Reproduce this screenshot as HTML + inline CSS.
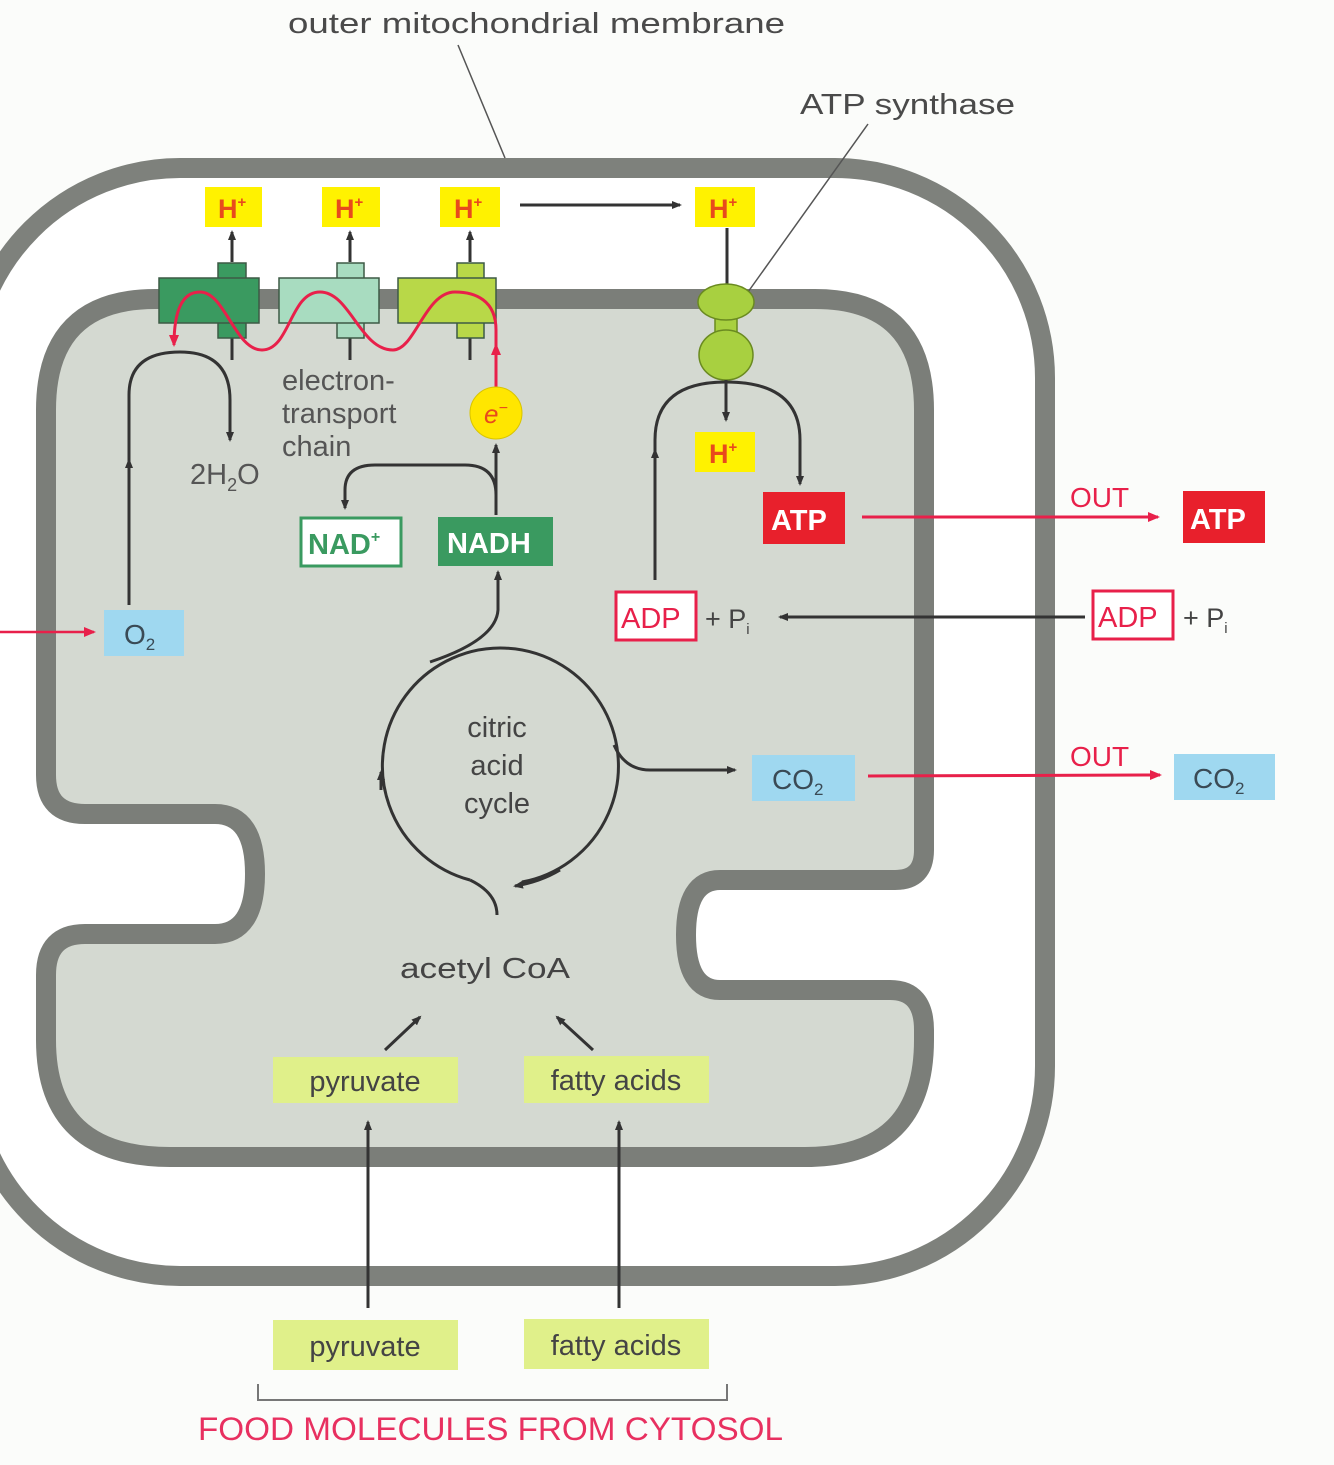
<!DOCTYPE html>
<html><head><meta charset="utf-8"><style>
html,body{margin:0;padding:0;background:#fbfcfa;}
svg{display:block;}
text{font-family:"Liberation Sans",sans-serif;}
</style></head><body>
<svg width="1334" height="1465" viewBox="0 0 1334 1465" xmlns="http://www.w3.org/2000/svg">
<defs>
<marker id="ak" markerWidth="10" markerHeight="10" refX="8" refY="5" orient="auto" markerUnits="userSpaceOnUse"><path d="M0,1 L10,5 L0,9 Z" fill="#333"/></marker>
<marker id="ar" markerWidth="12" markerHeight="12" refX="10" refY="6" orient="auto" markerUnits="userSpaceOnUse"><path d="M0,1 L12,6 L0,11 Z" fill="#e8204a"/></marker>
</defs>
<rect width="1334" height="1465" fill="#fbfcfa"/>
<!-- outer membrane -->
<rect x="-30" y="168" width="1075" height="1108" rx="210" ry="210" fill="#ffffff" stroke="#7e817c" stroke-width="20"/>
<!-- inner membrane/matrix -->
<path d="M155,299 L815,299 Q924,299 924,410 L924,850 Q924,880 895,880 L720,880 Q686,880 686,935 Q686,990 720,990 L890,990 Q924,990 924,1030 L924,1040 Q924,1157 805,1157 L170,1157 Q46,1157 46,1040 L46,975 Q46,934 85,934 L215,934 Q255,934 255,874 Q255,814 215,814 L85,814 Q46,814 46,775 L46,410 Q46,299 155,299 Z" fill="#d4d9d1" stroke="#7b7e79" stroke-width="20"/>

<!-- labels top -->
<text x="288" y="33" font-size="29" fill="#4a4a4a" textLength="497" lengthAdjust="spacingAndGlyphs">outer mitochondrial membrane</text>
<line x1="458" y1="45" x2="505" y2="158" stroke="#555" stroke-width="1.5"/>
<text x="800" y="114" font-size="29" fill="#4a4a4a" textLength="215" lengthAdjust="spacingAndGlyphs">ATP synthase</text>
<line x1="868" y1="124" x2="748" y2="292" stroke="#555" stroke-width="1.5"/>

<!-- H+ boxes top -->
<g font-size="27" font-weight="bold" fill="#e84a1c">
<rect x="205" y="187" width="57" height="40" fill="#fff200"/><text x="218" y="218">H<tspan font-size="15" dy="-11">+</tspan></text>
<rect x="322" y="187" width="58" height="40" fill="#fff200"/><text x="335" y="218">H<tspan font-size="15" dy="-11">+</tspan></text>
<rect x="440" y="187" width="60" height="40" fill="#fff200"/><text x="454" y="218">H<tspan font-size="15" dy="-11">+</tspan></text>
<rect x="695" y="187" width="60" height="40" fill="#fff200"/><text x="709" y="218">H<tspan font-size="15" dy="-11">+</tspan></text>
<rect x="695" y="432" width="60" height="40" fill="#fff200"/><text x="709" y="463">H<tspan font-size="15" dy="-11">+</tspan></text>
</g>
<line x1="520" y1="205" x2="680" y2="205" stroke="#333" stroke-width="3" marker-end="url(#ak)"/>

<!-- ETC complexes -->
<g stroke="#333" stroke-width="3">
<line x1="232" y1="262" x2="232" y2="232" marker-end="url(#ak)"/>
<line x1="350" y1="262" x2="350" y2="232" marker-end="url(#ak)"/>
<line x1="470" y1="262" x2="470" y2="232" marker-end="url(#ak)"/>
<line x1="232" y1="336" x2="232" y2="360"/>
<line x1="350" y1="336" x2="350" y2="360"/>
<line x1="470" y1="336" x2="470" y2="360"/>
</g>
<g stroke="#3d5a45" stroke-width="1.5">
<rect x="218" y="263" width="28" height="16" fill="#3a9a60"/>
<rect x="218" y="322" width="28" height="16" fill="#3a9a60"/>
<rect x="159" y="278" width="100" height="45" fill="#3a9a60"/>
<rect x="337" y="263" width="27" height="16" fill="#a8dcc0"/>
<rect x="337" y="322" width="27" height="16" fill="#a8dcc0"/>
<rect x="279" y="278" width="100" height="45" fill="#a8dcc0"/>
<rect x="457" y="263" width="27" height="16" fill="#b8d848"/>
<rect x="457" y="322" width="27" height="16" fill="#b8d848"/>
<rect x="398" y="278" width="98" height="45" fill="#b8d848"/>
</g>
<path d="M496,388 L496,330 C496,300 475,292 455,292 C425,292 415,350 393,350 C360,350 350,292 320,292 C290,292 290,350 262,350 C235,350 225,292 200,292 C180,292 174,315 174,345" fill="none" stroke="#e8204a" stroke-width="3" marker-end="url(#ar)"/>
<line x1="496" y1="360" x2="496" y2="345" stroke="#e8204a" stroke-width="3" marker-end="url(#ar)"/>

<!-- e- -->
<circle cx="496" cy="413" r="26" fill="#ffe600" stroke="#d8c400" stroke-width="1"/>
<text x="484" y="423" font-size="26" font-style="italic" fill="#e84a1c">e<tspan font-size="16" dy="-10">−</tspan></text>

<!-- O2 loop -->
<rect x="104" y="610" width="80" height="46" fill="#9fd8f0"/>
<text x="124" y="644" font-size="28" fill="#3a4a55">O<tspan font-size="17" dy="6">2</tspan></text>
<line x1="0" y1="632" x2="94" y2="632" stroke="#e8204a" stroke-width="2.5" marker-end="url(#ar)"/>
<path d="M129,605 L129,395 Q129,352 180,352 Q230,352 230,400 L230,440" fill="none" stroke="#333" stroke-width="3" marker-end="url(#ak)"/>
<line x1="129" y1="480" x2="129" y2="460" stroke="#333" stroke-width="3" marker-end="url(#ak)"/>
<text x="190" y="484" font-size="29" fill="#555">2H<tspan font-size="18" dy="7">2</tspan><tspan dy="-7">O</tspan></text>
<text font-size="29" fill="#555"><tspan x="282" y="390">electron-</tspan><tspan x="282" y="423">transport</tspan><tspan x="282" y="456">chain</tspan></text>

<!-- NAD -->
<rect x="301" y="518" width="100" height="48" fill="#fff" stroke="#3a9a60" stroke-width="3"/>
<text x="308" y="554" font-size="29" font-weight="bold" fill="#3a9a60">NAD<tspan font-size="16" dy="-12">+</tspan></text>
<rect x="438" y="517" width="115" height="49" fill="#3a9a60"/>
<text x="447" y="553" font-size="29" font-weight="bold" fill="#fff">NADH</text>
<path d="M496,515 L496,445" stroke="#333" stroke-width="3" fill="none" marker-end="url(#ak)"/>
<path d="M496,495 Q496,465 465,465 L375,465 Q345,465 345,490 L345,508" stroke="#333" stroke-width="3" fill="none" marker-end="url(#ak)"/>
<path d="M430,662 Q496,640 498,610 L498,572" stroke="#333" stroke-width="3" fill="none" marker-end="url(#ak)"/>

<!-- citric acid cycle -->
<path d="M522,882 A118,118 0 1 0 470,880" fill="none" stroke="#333" stroke-width="3"/>
<path d="M560,870 Q540,882 515,886" fill="none" stroke="#333" stroke-width="3" marker-end="url(#ak)"/>
<line x1="381" y1="790" x2="381" y2="772" stroke="#333" stroke-width="3" marker-end="url(#ak)"/>
<path d="M470,880 Q497,893 497,915" fill="none" stroke="#333" stroke-width="3"/>
<text font-size="29" fill="#444" text-anchor="middle"><tspan x="497" y="737">citric</tspan><tspan x="497" y="775">acid</tspan><tspan x="497" y="813">cycle</tspan></text>
<path d="M614,745 Q625,770 650,770 L735,770" fill="none" stroke="#333" stroke-width="3" marker-end="url(#ak)"/>
<rect x="752" y="755" width="103" height="46" fill="#9fd8f0"/>
<text x="772" y="789" font-size="28" fill="#3a4a55">CO<tspan font-size="17" dy="6">2</tspan></text>
<line x1="868" y1="776" x2="1160" y2="775" stroke="#e8204a" stroke-width="3" marker-end="url(#ar)"/>
<text x="1070" y="766" font-size="28" fill="#e8204a">OUT</text>
<rect x="1174" y="754" width="101" height="46" fill="#9fd8f0"/>
<text x="1193" y="788" font-size="28" fill="#3a4a55">CO<tspan font-size="17" dy="6">2</tspan></text>

<!-- ATP synthase -->
<line x1="727" y1="228" x2="727" y2="288" stroke="#333" stroke-width="3"/>
<g fill="#a8d040" stroke="#6a8a20" stroke-width="1.5">
<rect x="715" y="305" width="22" height="35"/>
<ellipse cx="726" cy="302" rx="28" ry="18"/>
<ellipse cx="726" cy="355" rx="27" ry="25"/>
</g>
<path d="M726,380 L726,420" stroke="#333" stroke-width="3" marker-end="url(#ak)"/>
<path d="M655,580 L655,440 Q655,382 726,382 Q800,382 800,440 L800,484" fill="none" stroke="#333" stroke-width="3" marker-end="url(#ak)"/>
<line x1="655" y1="470" x2="655" y2="450" stroke="#333" stroke-width="3" marker-end="url(#ak)"/>
<rect x="763" y="492" width="82" height="52" fill="#e8202c"/>
<text x="771" y="530" font-size="29" font-weight="bold" fill="#fff">ATP</text>
<line x1="862" y1="517" x2="1158" y2="517" stroke="#e8204a" stroke-width="3" marker-end="url(#ar)"/>
<text x="1070" y="507" font-size="28" fill="#e8204a">OUT</text>
<rect x="1183" y="491" width="82" height="52" fill="#e8202c"/>
<text x="1190" y="529" font-size="29" font-weight="bold" fill="#fff">ATP</text>

<rect x="616" y="592" width="80" height="48" fill="#fff" stroke="#e8204a" stroke-width="3"/>
<text x="621" y="628" font-size="29" fill="#e8204a">ADP</text>
<text x="705" y="628" font-size="27" fill="#444">+ P<tspan font-size="15" dy="6">i</tspan></text>
<line x1="1085" y1="617" x2="780" y2="617" stroke="#333" stroke-width="3" marker-end="url(#ak)"/>
<rect x="1093" y="591" width="80" height="48" fill="#fff" stroke="#e8204a" stroke-width="3"/>
<text x="1098" y="627" font-size="29" fill="#e8204a">ADP</text>
<text x="1183" y="627" font-size="27" fill="#444">+ P<tspan font-size="15" dy="6">i</tspan></text>

<!-- acetyl CoA & food -->
<text x="400" y="978" font-size="29" fill="#444" textLength="170" lengthAdjust="spacingAndGlyphs">acetyl CoA</text>
<line x1="385" y1="1050" x2="420" y2="1017" stroke="#333" stroke-width="3" marker-end="url(#ak)"/>
<line x1="593" y1="1050" x2="557" y2="1017" stroke="#333" stroke-width="3" marker-end="url(#ak)"/>
<g fill="#e0f08a">
<rect x="273" y="1057" width="185" height="46"/>
<rect x="524" y="1056" width="185" height="47"/>
<rect x="273" y="1320" width="185" height="50"/>
<rect x="524" y="1319" width="185" height="50"/>
</g>
<g font-size="29" fill="#444" text-anchor="middle">
<text x="365" y="1091">pyruvate</text>
<text x="616" y="1090">fatty acids</text>
<text x="365" y="1356">pyruvate</text>
<text x="616" y="1355">fatty acids</text>
</g>
<line x1="368" y1="1308" x2="368" y2="1122" stroke="#333" stroke-width="3" marker-end="url(#ak)"/>
<line x1="619" y1="1308" x2="619" y2="1122" stroke="#333" stroke-width="3" marker-end="url(#ak)"/>
<path d="M258,1384 L258,1400 L727,1400 L727,1384" fill="none" stroke="#777" stroke-width="2"/>
<text x="198" y="1440" font-size="32" fill="#e83060" textLength="585" lengthAdjust="spacingAndGlyphs">FOOD MOLECULES FROM CYTOSOL</text>
</svg>
</body></html>
